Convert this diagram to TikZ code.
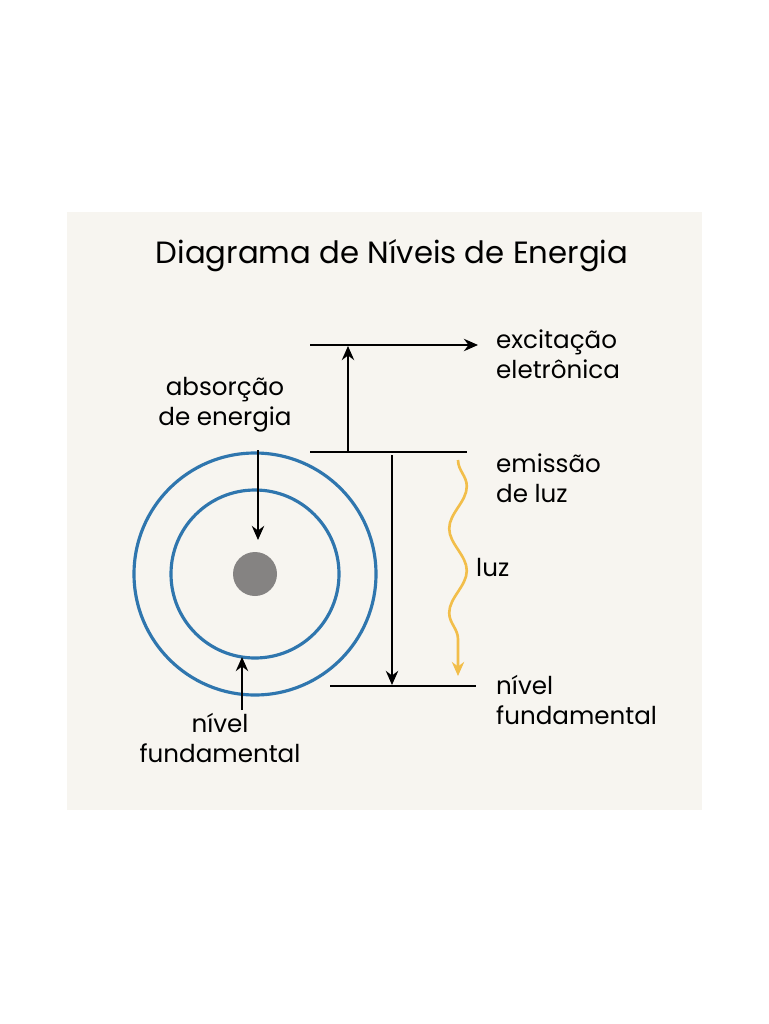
\documentclass[tikz,border=0pt]{standalone}
\usepackage{fontspec}
\setmainfont{Poppins}
\usetikzlibrary{arrows.meta,decorations.pathmorphing}
\definecolor{panel}{HTML}{F7F5F0}
\definecolor{orbit}{HTML}{2F76AE}
\definecolor{nucleo}{HTML}{858382}
\definecolor{luzcor}{HTML}{F2BE4A}
\tikzset{
  level/.style={line width=1.4pt},
  seta/.style={line width=1.3pt,-{Stealth[length=8pt,width=7pt]}},
  rotulo/.style={font=\fontsize{14}{17}\selectfont,align=left,anchor=west},
  rotuloc/.style={font=\fontsize{14}{17}\selectfont,align=center},
}
\begin{document}
\begin{tikzpicture}[x=0.02cm,y=-0.02cm]
\useasboundingbox (0,0) rectangle (768,1024);
% Panel
\fill[panel] (67,212) rectangle (702,810);
\node[font=\fontsize{17.5}{20}\selectfont] (titulo) at (392,256) {Diagrama de Níveis de Energia};
% Atom
\draw[orbit,line width=1.8pt] (255,574) circle (121);
\draw[orbit,line width=1.8pt] (255,574) circle (84);
\fill[nucleo] (255,574) circle (22);
\coordinate (orbInt) at (255,490);
\node[rotuloc] (absorcao) at (225,405) {absorção\\de energia};
\coordinate (absTopo) at (258,450);
\coordinate (absFim) at (258,540);
\draw[seta] (absTopo) -- (absFim);
\node[rotuloc] (fundEsq) at (220,738) {nível\\fundamental};
\coordinate (fundBase) at (242,710);
\coordinate (fundPonta) at (242,657);
\draw[seta] (fundBase) -- (fundPonta);
% Energy levels
\coordinate (topoA) at (310,345);
\coordinate (topoB) at (478,345);
\coordinate (meioA) at (310,452);
\coordinate (meioB) at (467,452);
\coordinate (baseA) at (330,686);
\coordinate (baseB) at (476,686);
\draw[seta] (topoA) -- (topoB);
\draw[level] (meioA) -- (meioB);
\draw[level] (baseA) -- (baseB);
\draw[seta] (348,452) -- (348,346);
\draw[seta] (392,455) -- (392,685);
% Light
\draw[luzcor,line width=1.5pt,-{Stealth[length=8pt,width=7pt]},
  decorate,decoration={snake,amplitude=5,segment length=48,post length=12}]
  (458,460) -- (458,676);
% Labels
\node[rotulo] (excitacao) at (490,354) {excitação\\eletrônica};
\node[rotulo] (emissao) at (490,478) {emissão\\de luz};
\node[rotulo] (luz) at (470,567) {luz};
\node[rotulo] (fundDir) at (490,700) {nível\\fundamental};
\end{tikzpicture}
\end{document}
